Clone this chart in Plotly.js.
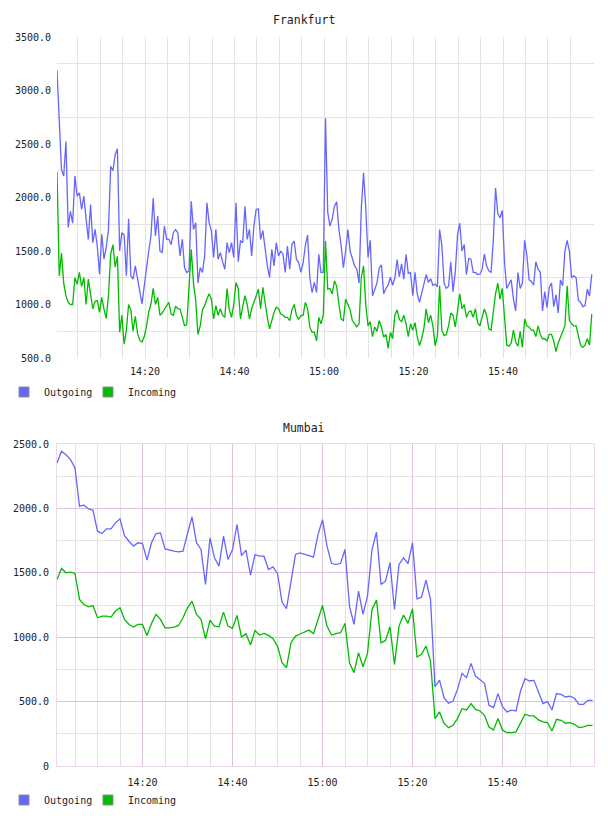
<!DOCTYPE html>
<html>
<head>
<meta charset="utf-8">
<script src="https://cdn.plot.ly/plotly-3.0.1.min.js"></script>
<style>
  html, body { margin: 0; padding: 0; background: #fff; }
  #chart { width: 608px; height: 816px; }
</style>
</head>
<body>
<div id="chart"></div>
<script>
// ---- Data -------------------------------------------------------------
const sampleDay = '2024-03-12';

// Frankfurt: one sample every 30 seconds starting 14:00:20
const frankfurtStart = '14:00:20';
const frankfurtStepSec = 30;
const frankfurtOutgoing = [
  3190, 2650, 2260, 2200, 2524, 1720, 1870, 1760, 2200, 2012,
  2043, 1888, 2012, 1800, 1609, 1934, 1578, 1702, 1547, 1283,
  1656, 1423, 1532, 1700, 2291, 2250, 2400, 2455, 1500, 1671,
  1650, 1268, 1800, 1268, 1237, 1361, 1230, 1130, 1005, 1175,
  1361, 1500, 1640, 1996, 1640, 1826, 1500, 1485, 1733, 1609,
  1609, 1560, 1671, 1700, 1671, 1454, 1609, 1345, 1299, 1314,
  1965, 1700, 1764, 1200, 1345, 1300, 1454, 1950, 1764, 1686,
  1440, 1702, 1423, 1485, 1400, 1330, 1578, 1485, 1578, 1440,
  1950, 1400, 1593, 1578, 1918, 1609, 1702, 1454, 1733, 1888,
  1894, 1609, 1690, 1500, 1361, 1253, 1516, 1361, 1578, 1454,
  1500, 1470, 1299, 1547, 1330, 1563, 1593, 1423, 1392, 1300,
  1392, 1550, 1650, 1250, 1110, 1206, 1113, 1470, 1299, 1300,
  2740, 1860, 1733, 1800, 1919, 1960, 1700, 1547, 1345, 1500,
  1700, 1500, 1430, 1360, 1330, 1200, 1900, 2230, 1900, 1440,
  1600, 1082, 1140, 1200, 1340, 1370, 1100, 1150, 1180, 1255,
  1180, 1250, 1420, 1260, 1380, 1237, 1470, 1290, 1299, 1082,
  1300, 1100, 1020, 1110, 1200, 1280, 1206, 1240, 1180, 1190,
  1165, 1700, 1550, 1200, 1150, 1170, 1400, 1120, 1300,
  1650, 1760, 1500, 1560, 1280, 1430, 1423, 1300, 1299, 1280,
  1283, 1330, 1470, 1360, 1314, 1300, 1600, 2089, 1850, 1810,
  1880, 1400, 1150, 1190, 1230, 1051, 940, 1299, 1150, 1200,
  1600, 1460, 1230, 1215, 1180, 1400, 1330, 1300, 940, 1120,
  970, 1160, 1200, 980, 1090, 920, 1230, 1175, 1500, 1600,
  1500, 1250, 1268, 1250, 1040, 1020, 980, 990, 1144, 1080,
  1283
];
const frankfurtIncoming = [
  2240, 1268, 1480, 1200, 1080, 1020, 1000, 1000, 1250, 1190,
  1300, 1170, 1250, 1000, 1237, 1090, 960, 1030, 1036, 927,
  1067, 958, 870, 1082, 1470, 1560, 1350, 1450, 740, 900,
  630, 760, 1000, 950, 750, 890, 730, 664, 650, 700,
  795, 930, 1005, 1150, 1000, 1067, 900, 920, 960, 989,
  1020, 911, 900, 985, 960, 958, 880, 803, 810, 1200,
  1516, 1200, 1036, 720, 800, 950, 989, 1051, 1100, 1050,
  865, 990, 900, 960, 900, 880, 1150, 950, 880, 1000,
  1206, 1150, 865, 980, 1082, 1000, 865, 960, 1030, 1080,
  1144, 960, 1160, 1000, 880, 772, 860, 927, 974, 960,
  911, 900, 880, 880, 850, 950, 1000, 900, 860, 896,
  900, 1020, 960, 788, 741, 741, 660, 880, 820, 900,
  1594, 1144, 1150, 1100, 1221, 1170, 1000, 865, 850, 1051,
  1000, 950, 850, 820, 790, 820, 1250, 1361, 1000, 800,
  840, 700, 790, 750, 850, 790, 695, 720, 590, 740,
  680, 900, 950, 860, 840, 900, 820, 700, 820, 760,
  830, 700, 617, 680, 780, 960, 830, 900, 800, 617,
  700, 1175, 760, 710, 720, 800, 920, 900, 790,
  940, 1100, 960, 1000, 880, 930, 940, 880, 960, 830,
  800, 880, 958, 900, 772, 760, 950, 1100, 1200, 1050,
  1150, 880, 620, 610, 640, 760, 650, 610, 750, 600,
  865, 800, 790, 760, 760, 700, 800, 720, 680, 680,
  660, 720, 720, 660, 560, 640, 700, 741, 800, 1175,
  850, 820, 800, 800, 720, 620, 600, 620, 680, 620,
  911
];

// Mumbai: one sample per minute starting 14:01
const mumbaiStart = '14:01:00';
const mumbaiStepSec = 60;
const mumbaiOutgoing = [
  2353, 2443, 2417, 2379, 2314, 2017, 2025, 1996, 1986, 1823,
  1805, 1841, 1841, 1888, 1919, 1789, 1745, 1707, 1733, 1727,
  1598, 1733, 1805, 1810, 1686, 1676, 1668, 1663, 1668, 1805,
  1934, 1733, 1681, 1410, 1771, 1616, 1552, 1784, 1603, 1681,
  1875, 1634, 1676, 1482, 1642, 1629, 1629, 1526, 1546, 1495,
  1273, 1221, 1420, 1642, 1655, 1647, 1634,
  1621, 1797, 1913, 1707, 1572, 1565, 1572, 1681, 1241, 1099,
  1358, 1177, 1319, 1681, 1815, 1410, 1435, 1578, 1215, 1565,
  1616, 1572, 1733, 1298, 1311, 1443, 1293,
  616, 667, 531, 487, 505, 595, 719, 686, 797, 698,
  673, 642, 471, 453, 562, 461, 420, 433, 427, 582,
  678, 660, 665, 582, 485, 500, 435, 562, 556, 536,
  543, 526, 479, 479, 510, 510
];
const mumbaiIncoming = [
  1448, 1534, 1500, 1505, 1495, 1293, 1254, 1236, 1246, 1151,
  1164, 1164, 1156, 1203, 1228, 1138, 1099, 1079, 1099, 1099,
  1014, 1107, 1177, 1138, 1073, 1073, 1079, 1091, 1151, 1228,
  1280, 1177, 1138, 988, 1133, 1086, 1081, 1195, 1086, 1068,
  1169, 1001, 1027, 939, 1053, 1017, 1029, 1014, 988, 931,
  802, 763, 957, 1009, 1025, 1042, 1055,
  1027, 1133, 1246, 1086, 1017, 1027, 1035, 1107, 802, 725,
  880, 771, 874, 1215, 1288, 957, 975, 1081, 789, 1086,
  1172, 1107, 1221, 846, 867, 931, 815, 368, 420, 332,
  298, 316, 368, 445, 435, 484, 440, 427, 394, 303,
  280, 368, 278, 259, 259, 265, 337, 402, 389, 389,
  358, 342, 337, 272, 363, 355, 332, 337, 324, 298,
  303, 316, 316
];

// Axis labels
const timeTickLabels = ['14:20', '14:40', '15:00', '15:20', '15:40'];
const frankfurtYTicks = [500, 1000, 1500, 2000, 2500, 3000, 3500];
const frankfurtYGrid = [750, 1250, 1750, 2250, 2750, 3250];
const mumbaiYTicks = [0, 500, 1000, 1500, 2000, 2500];
const mumbaiYTickText = ['0', '500.0', '1000.0', '1500.0', '2000.0', '2500.0'];
const mumbaiYMinor = [250, 750, 1250, 1750, 2250];
const seriesNames = ['Outgoing', 'Incoming'];

// ---- Helpers ----------------------------------------------------------
function toSec(hms) {
  const p = hms.split(':').map(Number);
  return p[0] * 3600 + p[1] * 60 + (p[2] || 0);
}
function stamp(sec) {
  const pad = n => String(n).padStart(2, '0');
  const h = Math.floor(sec / 3600), m = Math.floor((sec % 3600) / 60), s = sec % 60;
  return sampleDay + ' ' + pad(h) + ':' + pad(m) + ':' + pad(s);
}
function timeline(start, step, n) {
  const t0 = toSec(start);
  return Array.from({length: n}, (_, i) => stamp(t0 + i * step));
}
const fTimes = timeline(frankfurtStart, frankfurtStepSec, frankfurtOutgoing.length);
const mTimes = timeline(mumbaiStart, mumbaiStepSec, mumbaiOutgoing.length);
const labelStamps = timeTickLabels.map(t => stamp(toSec(t)));
// five-minute grid from 14:05 through 15:55
const fiveMinuteGrid = [];
for (let s = toSec('14:05'); s <= toSec('15:55'); s += 300) fiveMinuteGrid.push(stamp(s));

// ---- Style ------------------------------------------------------------
const mono = 'DejaVu Sans Mono, monospace';
const blue = 'rgb(102,102,255)';
const green = 'rgb(0,187,0)';
const lightGrid = '#e3e3e3';
const mauveGrid = '#dcc4dc';
const mauveFrame = '#ecd8ec';

const line = (x, y, color, xa, ya) => ({
  type: 'scatter', mode: 'lines', x: x, y: y, xaxis: xa, yaxis: ya,
  line: {color: color, width: 1.3}, showlegend: false, hoverinfo: 'skip'
});
// legend-only entries (square swatches), one legend box per entry
const key = (name, color, legend, xa, ya) => ({
  type: 'scatter', mode: 'markers', x: [null], y: [null], name: name,
  legend: legend, showlegend: true, xaxis: xa, yaxis: ya,
  marker: {symbol: 'square', size: 10, color: color, line: {color: '#8c8c8c', width: 1}}
});

const traces = [
  line(fTimes, frankfurtOutgoing, blue, 'x', 'y'),
  line(fTimes, frankfurtIncoming, green, 'x', 'y'),
  line(mTimes, mumbaiOutgoing, blue, 'x2', 'y2'),
  line(mTimes, mumbaiIncoming, green, 'x2', 'y2'),
  key(seriesNames[0], blue, 'legend', 'x', 'y'),
  key(seriesNames[1], green, 'legend2', 'x', 'y'),
  key(seriesNames[0], blue, 'legend3', 'x2', 'y2'),
  key(seriesNames[1], green, 'legend4', 'x2', 'y2')
];

const tickFont = {family: mono, size: 10, color: '#222'};
const legendBox = (x, y) => ({
  orientation: 'h', xref: 'container', yref: 'container',
  xanchor: 'left', yanchor: 'middle', x: x, y: y,
  font: {family: mono, size: 10, color: '#222'},
  bgcolor: 'rgba(0,0,0,0)', borderwidth: 0, itemclick: false, itemdoubleclick: false
});

const layout = {
  width: 608, height: 816,
  margin: {l: 57, r: 14, t: 37, b: 50, autoexpand: false},
  paper_bgcolor: '#fff', plot_bgcolor: '#fff',
  showlegend: true,
  xaxis: {
    type: 'date', anchor: 'y', domain: [0, 1],
    range: [stamp(toSec('14:00:20')), stamp(toSec('16:00:20'))],
    tickmode: 'array', tickvals: labelStamps, ticktext: timeTickLabels,
    ticks: '', ticklabelstandoff: 6, tickfont: tickFont,
    showgrid: true, gridcolor: lightGrid, gridwidth: 1,
    minor: {tickmode: 'array', tickvals: fiveMinuteGrid, showgrid: true, gridcolor: lightGrid, gridwidth: 1, ticks: ''},
    zeroline: false, showline: false
  },
  yaxis: {
    anchor: 'x', domain: [0.55967, 1], range: [500, 3500],
    tickmode: 'array', tickvals: frankfurtYTicks, tickformat: '.1f',
    ticks: '', ticklabelstandoff: 5, tickfont: tickFont,
    showgrid: false,
    minor: {tickmode: 'array', tickvals: frankfurtYGrid, showgrid: true, gridcolor: lightGrid, gridwidth: 1, ticks: ''},
    zeroline: false, showline: false
  },
  xaxis2: {
    type: 'date', anchor: 'y2', domain: [0, 1],
    range: [stamp(toSec('14:01:00')), stamp(toSec('16:00:20'))],
    tickmode: 'array', tickvals: labelStamps, ticktext: timeTickLabels,
    ticks: '', ticklabelstandoff: 7, tickfont: tickFont,
    showgrid: true, gridcolor: mauveGrid, gridwidth: 1,
    minor: {tickmode: 'array', tickvals: fiveMinuteGrid, showgrid: true, gridcolor: lightGrid, gridwidth: 1, ticks: ''},
    zeroline: false, showline: true, mirror: true, linecolor: mauveFrame, linewidth: 1
  },
  yaxis2: {
    anchor: 'x2', domain: [0, 0.4417], range: [0, 2500],
    tickmode: 'array', tickvals: mumbaiYTicks, ticktext: mumbaiYTickText,
    ticks: '', ticklabelstandoff: 5, tickfont: tickFont,
    showgrid: true, gridcolor: mauveGrid, gridwidth: 1,
    minor: {tickmode: 'array', tickvals: mumbaiYMinor, showgrid: true, gridcolor: lightGrid, gridwidth: 1, ticks: ''},
    zeroline: false, showline: true, mirror: true, linecolor: mauveFrame, linewidth: 1
  },
  legend: legendBox(0.0066, 0.5196),
  legend2: legendBox(0.1447, 0.5196),
  legend3: legendBox(0.0066, 0.0196),
  legend4: legendBox(0.1447, 0.0196),
  annotations: [
    {text: 'Frankfurt', xref: 'paper', yref: 'paper', x: 0.46, y: 1.0233,
     xanchor: 'center', yanchor: 'middle', showarrow: false,
     font: {family: mono, size: 11.5, color: '#222'}},
    {text: 'Mumbai', xref: 'paper', yref: 'paper', x: 0.46, y: 0.4636,
     xanchor: 'center', yanchor: 'middle', showarrow: false,
     font: {family: mono, size: 11.5, color: '#222'}}
  ],
  hovermode: false
};

Plotly.newPlot('chart', traces, layout, {displayModeBar: false, staticPlot: true});
</script>
</body>
</html>
